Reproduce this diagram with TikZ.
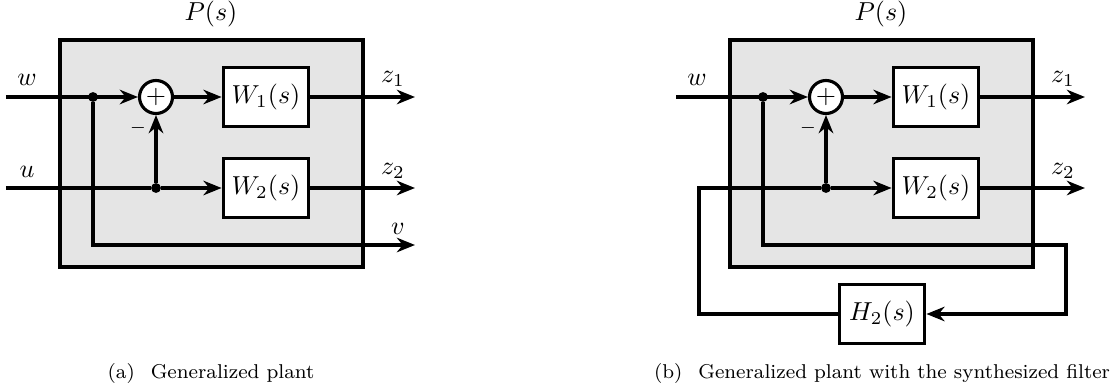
\documentclass[tikz,border=0pt]{standalone}
\usetikzlibrary{arrows.meta}
\tikzset{blk/.style={draw, fill=white, line width=1.2pt, minimum width=33pt, minimum height=22.6pt, inner sep=0pt}}
\tikzset{sumj/.style={circle, draw, fill=white, line width=1.2pt, minimum size=12.7pt, inner sep=0pt}}
\tikzset{dot/.style={circle, fill, inner sep=0pt, minimum size=3.8pt}}
\tikzset{wire/.style={line width=1.2pt}}
\tikzset{sig/.style={wire, -{Stealth[length=7pt,width=5.6pt]}}}
\tikzset{captext/.style={font=\fontsize{7.7}{9}\selectfont}}

\begin{document}
\begin{tikzpicture}[x=0.385pt, y=-0.385pt]
  \useasboundingbox (0,0) rectangle (1115,391);

  \foreach \dx/\p in {0/a,670/b} {
    \draw[wire, fill=black!10] (\dx+60,40) rectangle (\dx+363,267);
    \node (\p-Pl) at (\dx+211,14) {$P(s)$};
    \node[sumj] (\p-sum) at (\dx+156,97) {$+$};
    \node[blk] (\p-W1) at (\dx+266,97) {$W_1(s)$};
    \node[blk] (\p-W2) at (\dx+266,188) {$W_2(s)$};
    \node[dot] (\p-j1) at (\dx+93,97) {};
    \node[dot] (\p-j2) at (\dx+156,188) {};
    \coordinate (\p-w) at (\dx+6,97);
    \coordinate (\p-z1) at (\dx+415,97);
    \coordinate (\p-z2) at (\dx+415,188);
    \node (\p-wl) at (\dx+27,80) {$w$};
    \node (\p-z1l) at (\dx+393,79) {$z_1$};
    \node (\p-z2l) at (\dx+393,171) {$z_2$};
    \node[font=\scriptsize] (\p-minus) at (\dx+138,128) {$-$};

    \draw[sig] (\p-w) -- (\p-sum);
    \draw[sig] (\p-sum) -- (\p-W1);
    \draw[sig] (\p-W1) -- (\p-z1);
    \draw[sig] (\p-j2) -- (\p-sum);
    \draw[sig] (\p-j2) -- (\p-W2);
    \draw[sig] (\p-W2) -- (\p-z2);
  }

  % (a) open plant
  \coordinate (a-u) at (6,188);
  \coordinate (a-v) at (415,245);
  \node (a-ul) at (27,172) {$u$};
  \node (a-vl) at (398,229) {$v$};
  \draw[wire] (a-u) -- (a-j2);
  \draw[sig] (a-j1) |- (a-v);

  % (b) with the filter in the loop
  \node[blk] (b-H2) at (882,314) {$H_2(s)$};
  \coordinate (b-k) at (1066,245);
  \coordinate (b-u) at (699,188);
  \draw[sig] (b-j1) |- (b-k) |- (b-H2);
  \draw[wire] (b-H2) -| (b-u) -- (b-j2);

  \node[captext] (a-cap) at (211,373) {(a)\hspace{0.8em}Generalized plant};
  \node[captext] (b-cap) at (882,373) {(b)\hspace{0.8em}Generalized plant with the synthesized filter};
\end{tikzpicture}
\end{document}
